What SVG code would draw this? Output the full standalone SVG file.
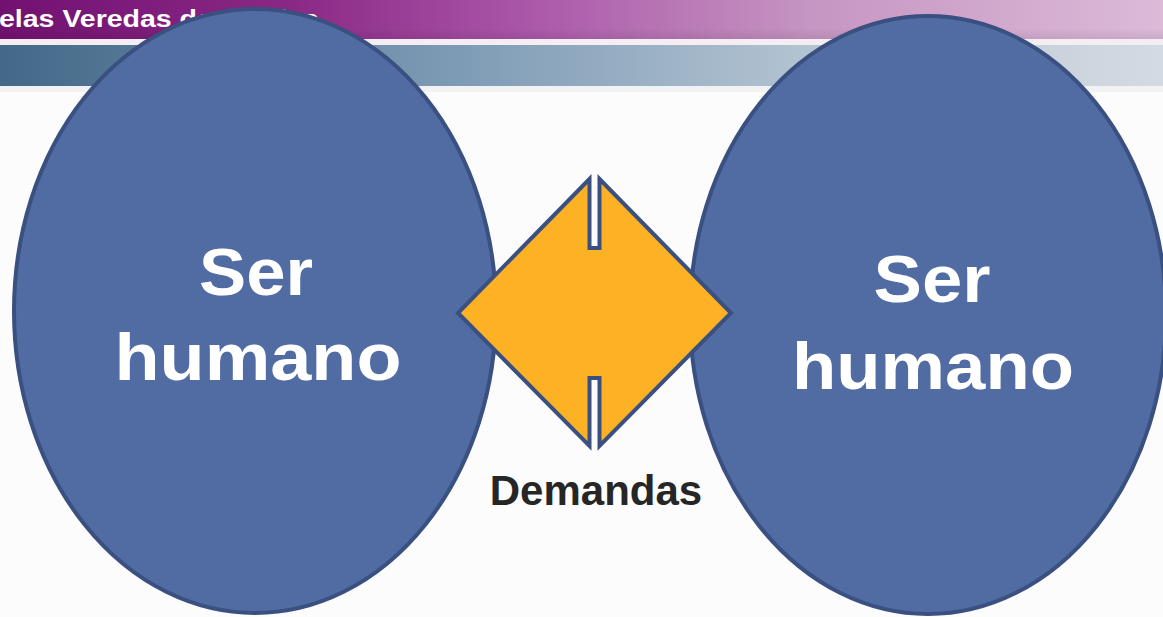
<svg xmlns="http://www.w3.org/2000/svg" width="1163" height="617" viewBox="0 0 1163 617">
<defs>
<linearGradient id="gPurple" x1="0" y1="0" x2="1" y2="0">
<stop offset="0" stop-color="#721270"/>
<stop offset="0.25" stop-color="#8a2886"/>
<stop offset="0.45" stop-color="#aa56a8"/>
<stop offset="0.7" stop-color="#c696c2"/>
<stop offset="1" stop-color="#dcbad8"/>
</linearGradient>
<linearGradient id="gBlue" x1="0" y1="0" x2="1" y2="0">
<stop offset="0" stop-color="#436888"/>
<stop offset="0.4" stop-color="#7f9cb6"/>
<stop offset="0.7" stop-color="#b4c4d2"/>
<stop offset="1" stop-color="#d4dae2"/>
</linearGradient>
<linearGradient id="gFade" x1="0" y1="0" x2="0" y2="1">
<stop offset="0" stop-color="#000" stop-opacity="0"/>
<stop offset="1" stop-color="#000" stop-opacity="0.08"/>
</linearGradient>
<style>
.person{fill:#506ca3;stroke:#3a5080;stroke-width:4}
.ptext{font-family:"Liberation Sans",Arial,sans-serif;font-weight:bold;font-size:66px;fill:#ffffff;text-anchor:middle}
.hdr{font-family:"Liberation Sans",Arial,sans-serif;font-weight:bold;font-size:23px;fill:#ffffff}
.lbl{font-family:"Liberation Sans",Arial,sans-serif;font-weight:bold;font-size:42px;fill:#262626;text-anchor:middle}
.dia{fill:#fdb124;stroke:#3a5080;stroke-width:4;stroke-linejoin:miter}
</style>
</defs>
<rect x="0" y="0" width="1163" height="617" fill="#fcfcfc"/>
<g id="header">
<rect x="0" y="0" width="1163" height="39" fill="url(#gPurple)"/>
<rect x="0" y="28" width="1163" height="11" fill="url(#gFade)"/>
<rect x="0" y="39" width="1163" height="6" fill="#f4eef4"/>
<rect x="0" y="45" width="1163" height="41" fill="url(#gBlue)"/>
<rect x="0" y="86" width="1163" height="6" fill="#f0f2f4"/>
<text class="hdr" x="-1" y="27" textLength="320" lengthAdjust="spacingAndGlyphs">elas Veredas da Justiça</text>
</g>
<g id="node-left">
<ellipse class="person" cx="255" cy="311" rx="241" ry="302"/>
<text class="ptext" x="256" y="295" textLength="114" lengthAdjust="spacingAndGlyphs">Ser</text>
<text class="ptext" x="258" y="380" textLength="287" lengthAdjust="spacingAndGlyphs">humano</text>
</g>
<g id="node-right">
<ellipse class="person" cx="928" cy="315" rx="238" ry="299"/>
<text class="ptext" x="932" y="302" textLength="117" lengthAdjust="spacingAndGlyphs">Ser</text>
<text class="ptext" x="933" y="389" textLength="282" lengthAdjust="spacingAndGlyphs">humano</text>
</g>
<g id="connectors">
<path class="dia" d="M589.5,179 L589.5,248 L599.5,248 L599.5,179 L731,313 L599.5,446 L599.5,378 L589.5,378 L589.5,446 L458,313 Z"/>
</g>
<g id="label-demandas">
<text class="lbl" x="596" y="505">Demandas</text>
</g>
</svg>
